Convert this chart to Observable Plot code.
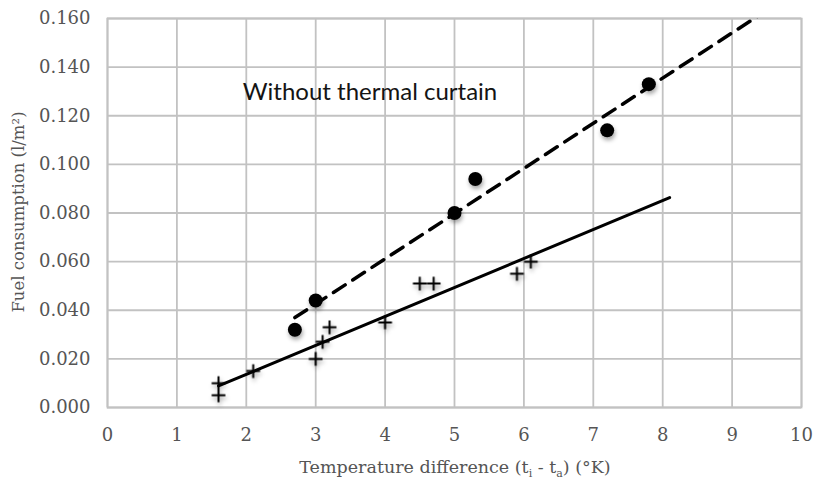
<!DOCTYPE html>
<html>
<head>
<meta charset="utf-8">
<script src="https://cdn.jsdelivr.net/npm/d3@7"></script>
<script src="https://cdn.jsdelivr.net/npm/@observablehq/plot@0.6"></script>
<style>
  body { margin: 0; background: #fff; }
  #chart svg g[aria-label="dot"] { filter: drop-shadow(1px 3px 2px rgba(0, 0, 0, 0.35)); }
</style>
</head>
<body>
<div id="chart"></div>
<script>
// Measurements without a thermal curtain (filled circles, dashed trend)
const withoutX = [2.7, 3.0, 5.0, 5.3, 7.2, 7.8];
const withoutY = [0.032, 0.044, 0.080, 0.094, 0.114, 0.133];

// Measurements with a thermal curtain (plus markers, solid trend)
const withX = [1.6, 1.6, 2.1, 3.0, 3.1, 3.2, 4.0, 4.5, 4.7, 5.9, 6.1];
const withY = [0.010, 0.005, 0.015, 0.020, 0.027, 0.033, 0.035, 0.051, 0.051, 0.055, 0.060];

// Axis ticks
const xTicks = [0, 1, 2, 3, 4, 5, 6, 7, 8, 9, 10];
const yTicks = [0, 0.02, 0.04, 0.06, 0.08, 0.10, 0.12, 0.14, 0.16];

// Trend lines are projected forward by this many degrees
const forecastForward = 2;

const noteText = "Without thermal curtain";
const xTitle = ["Temperature difference (t", "i", " - t", "a", ") (°K)"];
const yTitle = "Fuel consumption (l/m²)";

const toPoints = (xs, ys) => xs.map((x, i) => ({x, y: ys[i]}));
const withoutData = toPoints(withoutX, withoutY);
const withData = toPoints(withX, withY);

// Least-squares linear trend, from the first x to the last x plus the forecast
function trend(xs, ys) {
  const mx = d3.mean(xs), my = d3.mean(ys);
  const sxy = d3.sum(xs, (x, i) => (x - mx) * (ys[i] - my));
  const sxx = d3.sum(xs, x => (x - mx) ** 2);
  const slope = sxy / sxx, intercept = my - slope * mx;
  const x0 = d3.min(xs), x1 = d3.max(xs) + forecastForward;
  return [x0, x1].map(x => ({x, y: intercept + slope * x}));
}

const gridColor = "#c2c2c2";

const chart = Plot.plot({
  width: 814,
  height: 480,
  marginLeft: 107,
  marginRight: 13,
  marginTop: 18,
  marginBottom: 73,
  style: {fontFamily: "DejaVu Serif", fontSize: "18px", color: "#555", background: "#fff"},
  x: {domain: [0, 10], ticks: xTicks, tickSize: 0, tickPadding: 21, label: null},
  y: {domain: [0, 0.16], ticks: yTicks, tickSize: 0, tickPadding: 17, tickFormat: d3.format(".3f"), label: null},
  marks: [
    Plot.ruleX(xTicks, {stroke: gridColor, strokeWidth: 1.8}),
    Plot.ruleY(yTicks, {stroke: gridColor, strokeWidth: 1.8}),
    Plot.frame({stroke: gridColor, strokeWidth: 1.8}),
    Plot.line(trend(withX, withY), {x: "x", y: "y", stroke: "#000", strokeWidth: 3, clip: true}),
    Plot.line(trend(withoutX, withoutY), {x: "x", y: "y", stroke: "#000", strokeWidth: 3.5, strokeDasharray: "14,9", clip: true}),
    Plot.dot(withoutData, {x: "x", y: "y", r: 7, fill: "#000"}),
    Plot.dot(withData, {x: "x", y: "y", symbol: "plus", r: 4.5, stroke: "#000", strokeWidth: 2}),
    Plot.text([noteText], {
      x: () => 1.95, y: () => 0.1295, text: d => d,
      textAnchor: "start", fontFamily: "Lato", fontSize: 24, fill: "#141414"
    })
  ]
});

const svg = d3.select(chart);

// Axis titles (with subscripts on the x title)
const xt = svg.append("text")
  .attr("x", 455).attr("y", 473)
  .attr("text-anchor", "middle")
  .attr("font-family", "DejaVu Serif").attr("font-size", 17.5).attr("fill", "#555");
xTitle.forEach((s, i) => {
  const t = xt.append("tspan").text(s);
  if (i % 2 === 1) t.attr("font-size", 11).attr("dy", 4);
  else if (i > 0) t.attr("dy", -4);
});

svg.append("text")
  .attr("transform", "translate(24,212) rotate(-90)")
  .attr("text-anchor", "middle")
  .attr("font-family", "DejaVu Serif").attr("font-size", 16.5).attr("fill", "#555")
  .text(yTitle);

document.getElementById("chart").appendChild(chart);
</script>
</body>
</html>
